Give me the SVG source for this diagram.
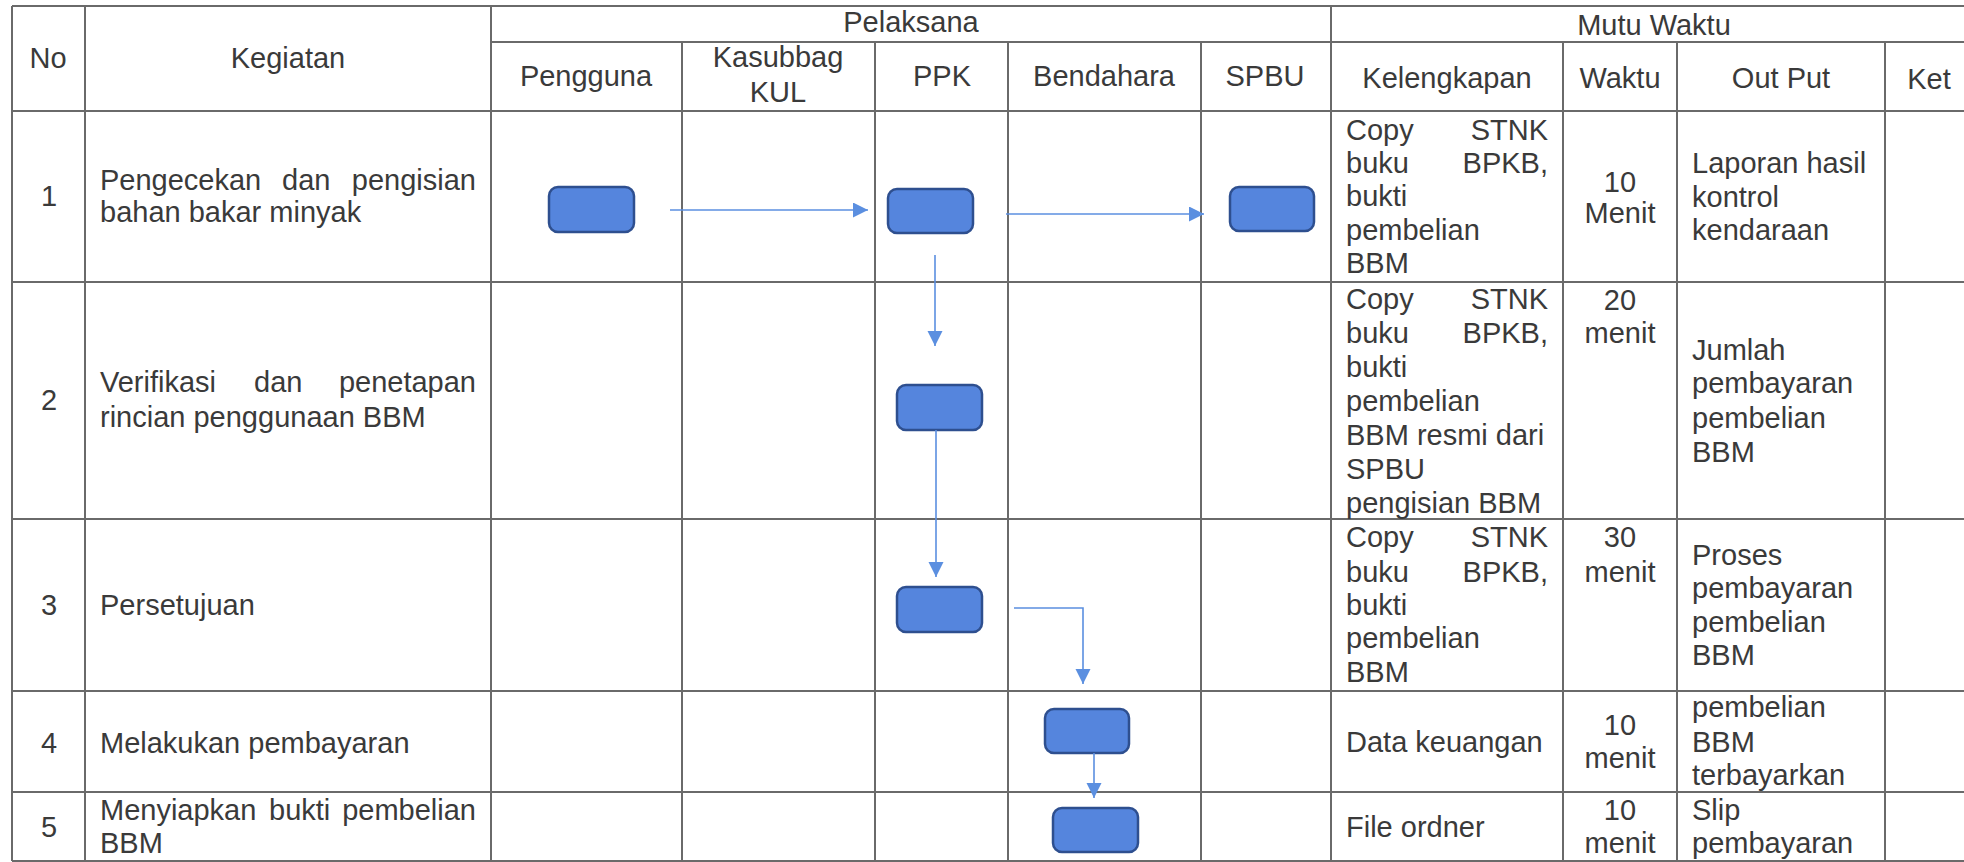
<svg xmlns="http://www.w3.org/2000/svg" width="1964" height="862" viewBox="0 0 1964 862">
  <style>
    .t { font-family: "Liberation Sans", Arial, sans-serif; font-size: 29px; fill: #3a3a3a; }
    .m { text-anchor: middle; }
    .e { text-anchor: end; }
    .grid line { stroke: #6a6a6a; stroke-width: 2; }
    .box { fill: #5585dd; stroke: #2e4f8f; stroke-width: 2.5; }
    .conn { fill: none; stroke: #5b8fe0; stroke-width: 1.6; }
  </style>
  <defs>
    <marker id="ah" markerUnits="userSpaceOnUse" markerWidth="16" markerHeight="16" refX="15" refY="7.5" orient="auto">
      <path d="M0,0 L15,7.5 L0,15 z" fill="#5b8fe0"/>
    </marker>
  </defs>
  <rect x="0" y="0" width="1964" height="862" fill="#ffffff"/>

  <g id="table" class="grid">
    <line x1="12" y1="6" x2="1964" y2="6"/>
    <line x1="491" y1="42" x2="1964" y2="42"/>
    <line x1="12" y1="111" x2="1964" y2="111"/>
    <line x1="12" y1="282" x2="1964" y2="282"/>
    <line x1="12" y1="519" x2="1964" y2="519"/>
    <line x1="12" y1="691" x2="1964" y2="691"/>
    <line x1="12" y1="792" x2="1964" y2="792"/>
    <line x1="12" y1="861" x2="1964" y2="861"/>
    <line x1="12" y1="6" x2="12" y2="861"/>
    <line x1="85" y1="6" x2="85" y2="861"/>
    <line x1="491" y1="6" x2="491" y2="861"/>
    <line x1="1331" y1="6" x2="1331" y2="861"/>
    <line x1="682" y1="42" x2="682" y2="861"/>
    <line x1="875" y1="42" x2="875" y2="861"/>
    <line x1="1008" y1="42" x2="1008" y2="861"/>
    <line x1="1201" y1="42" x2="1201" y2="861"/>
    <line x1="1563" y1="42" x2="1563" y2="861"/>
    <line x1="1677" y1="42" x2="1677" y2="861"/>
    <line x1="1885" y1="42" x2="1885" y2="861"/>
  </g>

  <g id="header" class="t">
    <text class="m" x="48" y="68">No</text>
    <text class="m" x="288" y="68">Kegiatan</text>
    <text class="m" x="911" y="32">Pelaksana</text>
    <text class="m" x="1654" y="35">Mutu Waktu</text>
    <text class="m" x="586" y="86">Pengguna</text>
    <text class="m" x="778" y="67">Kasubbag</text>
    <text class="m" x="778" y="102">KUL</text>
    <text class="m" x="942" y="86">PPK</text>
    <text class="m" x="1104" y="86">Bendahara</text>
    <text class="m" x="1265" y="86">SPBU</text>
    <text class="m" x="1447" y="88">Kelengkapan</text>
    <text class="m" x="1620" y="88">Waktu</text>
    <text class="m" x="1781" y="88">Out Put</text>
    <text class="m" x="1929" y="89">Ket</text>
  </g>

  <g id="col-no" class="t m">
    <text x="49" y="206">1</text>
    <text x="49" y="410">2</text>
    <text x="49" y="615">3</text>
    <text x="49" y="753">4</text>
    <text x="49" y="837">5</text>
  </g>

  <g id="col-kegiatan" class="t">
    <text x="100" y="190">Pengecekan</text>
    <text x="282" y="190">dan</text>
    <text class="e" x="476" y="190">pengisian</text>
    <text x="100" y="222">bahan bakar minyak</text>
    <text x="100" y="392">Verifikasi</text>
    <text x="254" y="392">dan</text>
    <text class="e" x="476" y="392">penetapan</text>
    <text x="100" y="427">rincian penggunaan BBM</text>
    <text x="100" y="615">Persetujuan</text>
    <text x="100" y="753">Melakukan pembayaran</text>
    <text x="100" y="820">Menyiapkan</text>
    <text x="269" y="820">bukti</text>
    <text class="e" x="476" y="820">pembelian</text>
    <text x="100" y="853">BBM</text>
  </g>

  <g id="col-kelengkapan" class="t">
    <text x="1346" y="140">Copy</text>
    <text class="e" x="1548" y="140">STNK</text>
    <text x="1346" y="173">buku</text>
    <text class="e" x="1548" y="173">BPKB,</text>
    <text x="1346" y="206">bukti</text>
    <text x="1346" y="240">pembelian</text>
    <text x="1346" y="273">BBM</text>

    <text x="1346" y="309">Copy</text>
    <text class="e" x="1548" y="309">STNK</text>
    <text x="1346" y="343">buku</text>
    <text class="e" x="1548" y="343">BPKB,</text>
    <text x="1346" y="377">bukti</text>
    <text x="1346" y="411">pembelian</text>
    <text x="1346" y="445">BBM resmi dari</text>
    <text x="1346" y="479">SPBU</text>
    <text x="1346" y="513">pengisian BBM</text>

    <text x="1346" y="547">Copy</text>
    <text class="e" x="1548" y="547">STNK</text>
    <text x="1346" y="582">buku</text>
    <text class="e" x="1548" y="582">BPKB,</text>
    <text x="1346" y="615">bukti</text>
    <text x="1346" y="648">pembelian</text>
    <text x="1346" y="682">BBM</text>

    <text x="1346" y="752">Data keuangan</text>
    <text x="1346" y="837">File ordner</text>
  </g>

  <g id="col-waktu" class="t m">
    <text x="1620" y="192">10</text>
    <text x="1620" y="223">Menit</text>
    <text x="1620" y="310">20</text>
    <text x="1620" y="343">menit</text>
    <text x="1620" y="547">30</text>
    <text x="1620" y="582">menit</text>
    <text x="1620" y="735">10</text>
    <text x="1620" y="768">menit</text>
    <text x="1620" y="820">10</text>
    <text x="1620" y="853">menit</text>
  </g>

  <g id="col-output" class="t">
    <text x="1692" y="173">Laporan hasil</text>
    <text x="1692" y="207">kontrol</text>
    <text x="1692" y="240">kendaraan</text>
    <text x="1692" y="360">Jumlah</text>
    <text x="1692" y="393">pembayaran</text>
    <text x="1692" y="428">pembelian</text>
    <text x="1692" y="462">BBM</text>
    <text x="1692" y="565">Proses</text>
    <text x="1692" y="598">pembayaran</text>
    <text x="1692" y="632">pembelian</text>
    <text x="1692" y="665">BBM</text>
    <text x="1692" y="717">pembelian</text>
    <text x="1692" y="752">BBM</text>
    <text x="1692" y="785">terbayarkan</text>
    <text x="1692" y="820">Slip</text>
    <text x="1692" y="853">pembayaran</text>
  </g>

  <g id="n1-pengguna"><rect class="box" x="549" y="187" width="85" height="45" rx="9"/></g>
  <g id="n1-ppk"><rect class="box" x="888" y="189" width="85" height="44" rx="9"/></g>
  <g id="n1-spbu"><rect class="box" x="1230" y="187" width="84" height="44" rx="9"/></g>
  <g id="n2-ppk"><rect class="box" x="897" y="385" width="85" height="45" rx="9"/></g>
  <g id="n3-ppk"><rect class="box" x="897" y="587" width="85" height="45" rx="9"/></g>
  <g id="n4-bendahara"><rect class="box" x="1045" y="709" width="84" height="44" rx="9"/></g>
  <g id="n5-bendahara"><rect class="box" x="1053" y="808" width="85" height="44" rx="9"/></g>

  <g id="connectors" class="conn">
    <path d="M670,210 H868" marker-end="url(#ah)"/>
    <path d="M1006,214 H1204" marker-end="url(#ah)"/>
    <path d="M935,255 V346" marker-end="url(#ah)"/>
    <path d="M936,430 V577" marker-end="url(#ah)"/>
    <path d="M1014,608 H1083 V684" marker-end="url(#ah)"/>
    <path d="M1094,753 V798" marker-end="url(#ah)"/>
  </g>
</svg>
